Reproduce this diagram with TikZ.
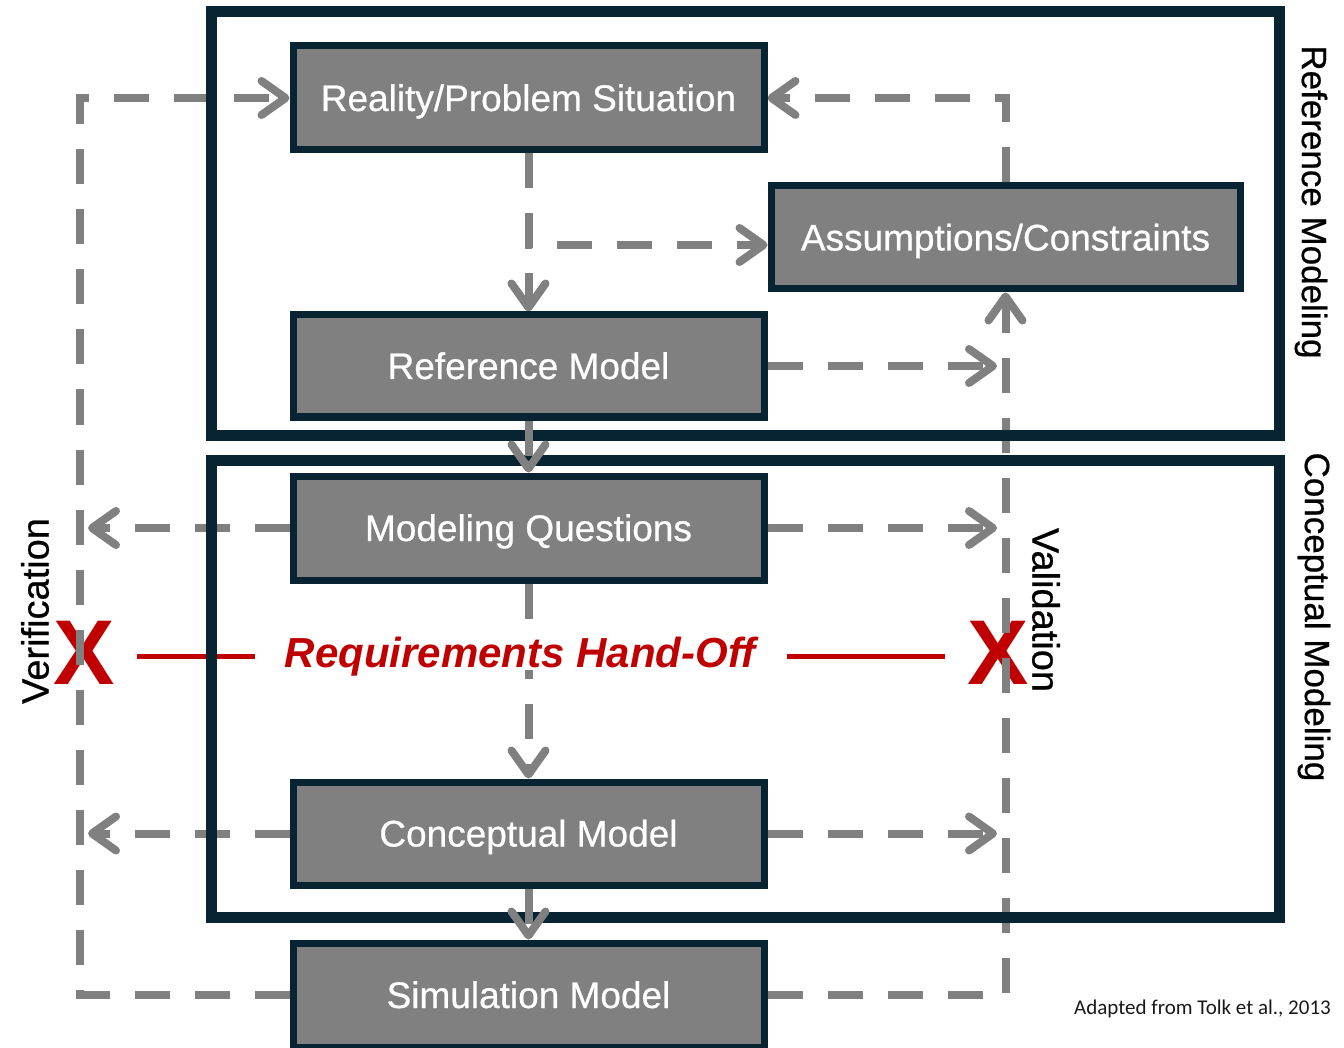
\documentclass[tikz,border=0pt]{standalone}
\usepackage{fontspec}
\setmainfont{Liberation Sans}
\newfontface\medsans{Liberation Sans}[FakeBold=0.6]
\newfontfamily\calib{Carlito}
\usetikzlibrary{arrows.meta}
\definecolor{navy}{RGB}{8,36,51}
\definecolor{boxgray}{RGB}{128,128,128}
\definecolor{lgray}{RGB}{128,128,128}
\definecolor{hred}{RGB}{192,0,0}
\pgfdeclarelayer{xl}
\pgfdeclarelayer{dash}
\pgfdeclarelayer{frm}
\pgfdeclarelayer{varr}
\pgfsetlayers{xl,dash,frm,varr,main}
\begin{document}
\begin{tikzpicture}[x=1pt,y=-1pt,
 box/.style={draw=navy,fill=boxgray,line width=7pt,minimum width=471pt,minimum height=104pt,inner sep=0pt,text=white,text height=26pt,text depth=0pt,font=\medsans\fontsize{37}{44}\selectfont},
 frame/.style={draw=navy,line width=11pt},
 dl/.style={draw=lgray,line width=8pt,dash pattern=on 35pt off 25pt},
 tip/.style={-{Straight Barb[length=24pt,width=34pt,round]}},
 lab/.style={text=black,inner sep=0pt},
 redline/.style={draw=hred,line width=5pt},
 bigx/.style={text=hred,font=\fontsize{92}{92}\selectfont\bfseries,inner sep=0pt},
]
\useasboundingbox (0,0) rectangle (1344,1048);

% boxes
\node[box] (reality) at (528.5,98) {Reality/Problem Situation};
\node[box,minimum width=469pt,minimum height=103pt] (assump) at (1005.5,237.5) {Assumptions/Constraints};
\node[box,minimum height=102pt] (refm) at (528.5,366) {Reference Model};
\node[box] (modq) at (528.5,528) {Modeling Questions};
\node[box,minimum height=103pt] (concept) at (528.5,833.5) {Conceptual Model};
\node[box] (sim) at (528.5,995) {Simulation Model};

% coordinates
\coordinate (Lc) at (80,98);
\coordinate (Lq) at (88,528);
\coordinate (Lk) at (88,833.5);
\coordinate (Rr) at (997,366);
\coordinate (Rq) at (997,528);
\coordinate (Rk) at (997,833.5);
\coordinate (ab) at (767.5,245);
\coordinate (rl1) at (137,656);
\coordinate (rl2) at (255,656);
\coordinate (rr1) at (787,656);
\coordinate (rr2) at (945,656);

% red X marks and hand-off lines
\begin{pgfonlayer}{xl}
\node[bigx] (xleft) at (84,653) {X};
\node[bigx] (xright) at (998,653) {X};
\draw[redline] (rl1) -- (rl2);
\draw[redline] (rr1) -- (rr2);
\end{pgfonlayer}

% dashed connectors
\begin{pgfonlayer}{dash}
\draw[dl,tip] (sim.west) -| (Lc) -- (reality.west);
\draw[dl,tip] (modq.west) -- (Lq);
\draw[dl,tip] (concept.west) -- (Lk);
\draw[dl,tip] (sim.east) -| (assump.south);
\draw[dl,tip] (assump.north) |- (reality.east);
\draw[dl,tip] (refm.east) -- (Rr);
\draw[dl,tip] (modq.east) -- (Rq);
\draw[dl,tip] (concept.east) -- (Rk);
\draw[dl,tip] (reality.south) |- (ab);
\draw[dl,tip] (reality.south) -- (refm.north);
\draw[dl,tip] (modq.south) -- (concept.north);
\end{pgfonlayer}

% frames
\begin{pgfonlayer}{frm}
\draw[frame] (211,12) rectangle (1279,435.5);
\draw[frame] (211,460) rectangle (1279,917);
\end{pgfonlayer}

\begin{pgfonlayer}{varr}
\draw[dl,tip] (refm.south) -- (modq.north);
\draw[dl,tip] (concept.south) -- (sim.north);
\end{pgfonlayer}

% texts
\node[font=\fontsize{42}{50}\selectfont\bfseries\itshape,text=hred,fill=white,inner sep=3pt,text height=30pt,text depth=0pt] (hand) at (520,652) {Requirements Hand-Off};
\node[lab,rotate=-90,font=\medsans\fontsize{35}{42}\selectfont] (lref) at (1311,202) {Reference Modeling};
\node[lab,rotate=-90,font=\medsans\fontsize{35}{42}\selectfont] (lcon) at (1314,617) {Conceptual Modeling};
\node[lab,rotate=-90,font=\medsans\fontsize{38}{44}\selectfont] (lval) at (1046,610) {Validation};
\node[lab,rotate=90,font=\medsans\fontsize{38}{44}\selectfont] (lver) at (35,611) {Verification};
\node[anchor=west,inner sep=0pt,font=\calib\fontsize{21}{25}\selectfont,text=black!90] (src) at (1074,1009) {Adapted from Tolk et al., 2013};
\end{tikzpicture}
\end{document}
